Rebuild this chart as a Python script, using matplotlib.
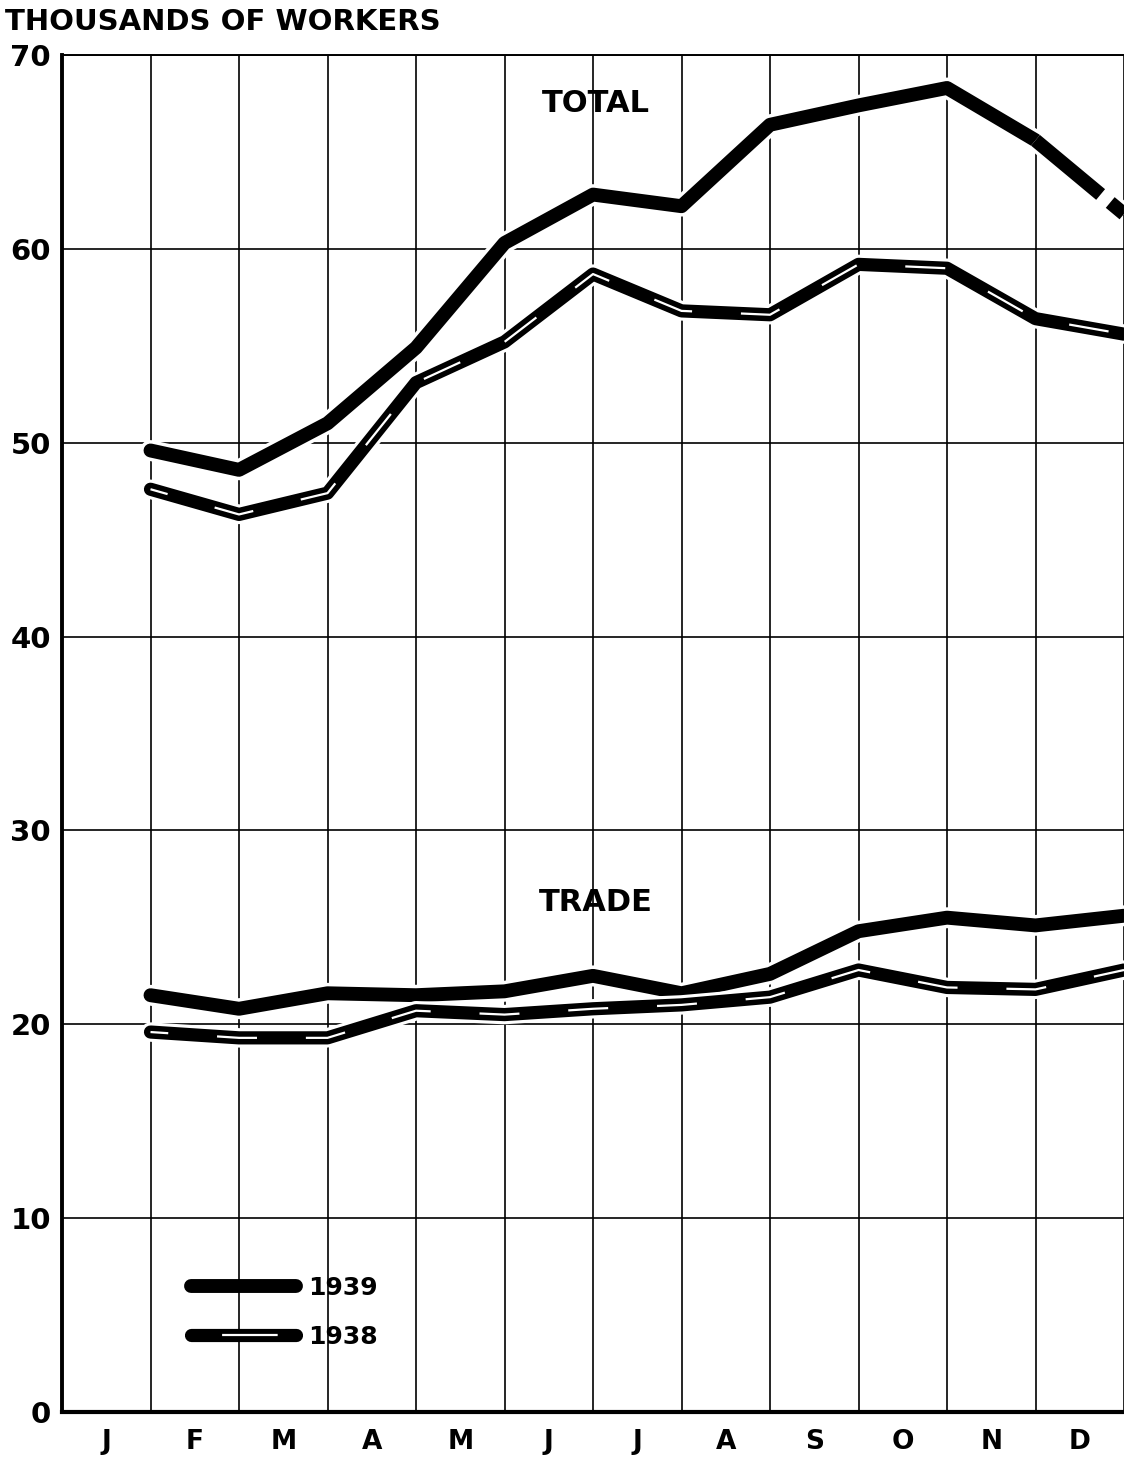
import matplotlib
matplotlib.use("Agg")
import matplotlib.pyplot as plt
import matplotlib.patheffects as pe
from matplotlib.lines import Line2D
import numpy as np

## Data (thousands of workers, read at the end of each month) ##
MONTHS = ['J', 'F', 'M', 'A', 'M', 'J', 'J', 'A', 'S', 'O', 'N', 'D']
TOTAL_1939 = [49.6, 48.6, 51.0, 54.9, 60.3, 62.8, 62.2, 66.4, 67.4, 68.3, 65.6, 61.8]
TOTAL_1938 = [47.6, 46.3, 47.4, 53.1, 55.2, 58.7, 56.8, 56.6, 59.2, 59.0, 56.4, 55.6]
TRADE_1939 = [21.5, 20.8, 21.6, 21.5, 21.7, 22.5, 21.6, 22.6, 24.8, 25.5, 25.1, 25.6]
TRADE_1938 = [19.6, 19.3, 19.3, 20.7, 20.5, 20.8, 21.0, 21.4, 22.8, 21.9, 21.8, 22.8]

plt.rcParams['font.family'] = 'DejaVu Sans'
plt.rcParams['font.weight'] = 'bold'

fig = plt.figure(figsize=(11.24, 14.58), dpi=100)
ax = fig.add_axes([62/1124, 1 - 1412/1458, 1062/1124, 1357/1458])

x = np.arange(1, 13)
halo = [pe.Stroke(linewidth=15, foreground='white'), pe.Normal()]
halo38 = [pe.Stroke(linewidth=14, foreground='white'), pe.Normal()]

def line_1939(vals, gap_last=False):
    if gap_last:
        ax.plot(x[:-1], vals[:-1], color='black', lw=10, solid_capstyle='round',
                solid_joinstyle='round', path_effects=halo, zorder=3, clip_on=False)
        ax.plot(x[-2:], vals[-2:], color='black', lw=10, dash_capstyle='butt',
                linestyle=(0, (6.1, 0.9, 30)), path_effects=halo, zorder=3, clip_on=False)
    else:
        ax.plot(x, vals, color='black', lw=10, solid_capstyle='round',
                solid_joinstyle='round', path_effects=halo, zorder=3, clip_on=False)

def line_1938(vals):
    ax.plot(x, vals, color='black', lw=9.5, solid_capstyle='round',
            solid_joinstyle='round', path_effects=halo38, zorder=3, clip_on=False)
    ax.plot(x, vals, color='white', lw=1.6, linestyle=(10, (18, 22)), zorder=4, clip_on=False)

line_1939(TOTAL_1939, gap_last=True)
line_1938(TOTAL_1938)
line_1939(TRADE_1939)
line_1938(TRADE_1938)

ax.text(6.03, 67.5, 'TOTAL', ha='center', va='center', fontsize=22)
ax.text(6.03, 26.3, 'TRADE', ha='center', va='center', fontsize=22)

## Axes ##
ax.set_xlim(0, 12)
ax.set_ylim(0, 70)
ax.set_xticks(np.arange(0, 13))
ax.set_xticklabels([])
ax.set_xticks(np.arange(0.5, 12), minor=True)
ax.set_xticklabels(MONTHS, minor=True, fontsize=19)
ax.set_yticks(np.arange(0, 71, 10))
ax.set_yticklabels([str(v) for v in range(0, 71, 10)], fontsize=21)
ax.tick_params(axis='both', which='both', length=0)
ax.tick_params(axis='x', which='minor', pad=12)
ax.tick_params(axis='y', pad=8)
ax.grid(True, which='major', color='black', lw=1.2)
ax.set_axisbelow(True)
ax.spines['left'].set_linewidth(2.8)
ax.spines['bottom'].set_linewidth(3.0)
ax.spines['top'].set_linewidth(1.4)
ax.spines['right'].set_visible(False)

fig.text(5/1124, 1 - 22/1458, 'THOUSANDS OF WORKERS', ha='left', va='center', fontsize=21)

## Legend ##
h39 = Line2D([], [], color='black', lw=10, solid_capstyle='round')
h38a = Line2D([], [], color='black', lw=9.5, solid_capstyle='round')
h38b = Line2D([], [], color='white', lw=1.6, linestyle=(-14, (25, 40)))
ax.legend([h39, (h38a, h38b)], ['1939', '1938'], loc='lower left',
          bbox_to_anchor=(0.1, 0.03), frameon=False, fontsize=18,
          handlelength=4.2, handletextpad=0.5, labelspacing=1.0)

fig.savefig('out.png', dpi=100)
